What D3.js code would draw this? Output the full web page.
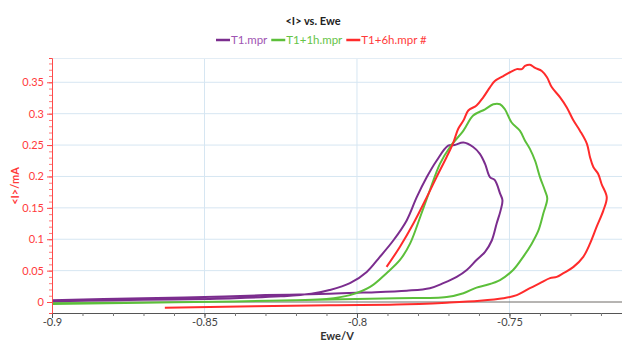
<!DOCTYPE html>
<html>
<head>
<meta charset="utf-8">
<script src="https://cdn.jsdelivr.net/npm/d3@7"></script>
<style>
  body { margin: 0; background: #fff; }
  svg { font-family: Lato, "Open Sans", sans-serif; }
</style>
</head>
<body>
<svg width="622" height="342"></svg>
<script>
// series: [Ewe (V), <I> (mA)]
var t1 = [
  [-0.9, 0.001], [-0.88, 0.003], [-0.86, 0.004], [-0.84, 0.006], [-0.825, 0.009],
  [-0.815, 0.013], [-0.809, 0.019], [-0.8023, 0.030], [-0.7968, 0.048], [-0.7925, 0.072],
  [-0.7881, 0.098], [-0.7837, 0.130], [-0.7804, 0.167], [-0.7771, 0.199], [-0.7739, 0.225],
  [-0.7701, 0.249], [-0.768, 0.250], [-0.7651, 0.254], [-0.7619, 0.247], [-0.7597, 0.236],
  [-0.758, 0.220], [-0.7564, 0.199], [-0.7548, 0.194], [-0.7531, 0.173], [-0.7523, 0.162],
  [-0.7529, 0.146], [-0.7542, 0.125], [-0.7558, 0.098], [-0.758, 0.080], [-0.7608, 0.067],
  [-0.764, 0.051], [-0.7673, 0.040], [-0.7717, 0.030], [-0.7761, 0.022], [-0.7837, 0.018],
  [-0.7979, 0.015], [-0.809, 0.013], [-0.83, 0.011], [-0.85, 0.008], [-0.87, 0.006], [-0.9, 0.003]
];
var t1h = [
  [-0.9, -0.003], [-0.87, -0.001], [-0.84, 0.001], [-0.82, 0.003], [-0.81, 0.005],
  [-0.8023, 0.011], [-0.7957, 0.024], [-0.7903, 0.046], [-0.7859, 0.067], [-0.7826, 0.093],
  [-0.7793, 0.135], [-0.7761, 0.178], [-0.7728, 0.220], [-0.7695, 0.247], [-0.7651, 0.273],
  [-0.7619, 0.297], [-0.758, 0.307], [-0.7553, 0.315], [-0.7531, 0.315], [-0.7515, 0.307],
  [-0.7493, 0.286], [-0.7466, 0.273], [-0.7449, 0.257], [-0.7433, 0.244], [-0.7416, 0.225],
  [-0.74, 0.199], [-0.7384, 0.178], [-0.7376, 0.165], [-0.7389, 0.141], [-0.7405, 0.114],
  [-0.7427, 0.093], [-0.7455, 0.072], [-0.7488, 0.051], [-0.7531, 0.035], [-0.7575, 0.027],
  [-0.7608, 0.023], [-0.7651, 0.014], [-0.7706, 0.008], [-0.787, 0.006], [-0.809, 0.004],
  [-0.84, 0.001], [-0.87, -0.001], [-0.9, -0.002]
];
var t6h = [
  [-0.7903, 0.056], [-0.7859, 0.088], [-0.7815, 0.125], [-0.7771, 0.167], [-0.7739, 0.199],
  [-0.7706, 0.231], [-0.7684, 0.254], [-0.7668, 0.276], [-0.7651, 0.289], [-0.7635, 0.305],
  [-0.7608, 0.313], [-0.7586, 0.326], [-0.7564, 0.342], [-0.7548, 0.352], [-0.752, 0.360],
  [-0.7498, 0.366], [-0.7476, 0.371], [-0.746, 0.371], [-0.7449, 0.376], [-0.7433, 0.378],
  [-0.7416, 0.373], [-0.7394, 0.368], [-0.7377, 0.358], [-0.7361, 0.342], [-0.7334, 0.326],
  [-0.7312, 0.310], [-0.729, 0.289], [-0.7269, 0.273], [-0.7246, 0.252], [-0.7236, 0.231],
  [-0.7225, 0.215], [-0.7209, 0.204], [-0.7198, 0.188], [-0.7181, 0.167], [-0.7192, 0.146],
  [-0.7214, 0.120], [-0.7236, 0.093], [-0.7258, 0.072], [-0.729, 0.056], [-0.7323, 0.046],
  [-0.7345, 0.040], [-0.7367, 0.038], [-0.74, 0.030], [-0.7433, 0.022], [-0.7476, 0.011],
  [-0.752, 0.006], [-0.7597, 0.002], [-0.7706, -0.001], [-0.787, -0.004], [-0.8089, -0.005],
  [-0.863, -0.009]
];

var seriesNames = ["T1.mpr", "T1+1h.mpr", "T1+6h.mpr #"];
var seriesColors = ["#7b2d8e", "#5cbf3a", "#ff2b2b"];
var legendTextColors = ["#a055b3", "#66c447", "#ff3b3b"];
var seriesData = [t1, t1h, t6h];

var xTicks = [-0.9, -0.85, -0.8, -0.75];
var xTickLabels = ["-0.9", "-0.85", "-0.8", "-0.75"];
var yTicks = [0, 0.05, 0.1, 0.15, 0.2, 0.25, 0.3, 0.35];
var yTickLabels = ["0", "0.05", "0.1", "0.15", "0.2", "0.25", "0.3", "0.35"];

var svg = d3.select("svg"),
    margin = {top: 58, right: 0, bottom: 29, left: 52},
    width = svg.attr("width") - margin.left - margin.right,
    height = svg.attr("height") - margin.top - margin.bottom;

var x = d3.scaleLinear().domain([-0.9, -0.7131]).range([0, width]),
    y = d3.scaleLinear().domain([-0.0175, 0.3887]).range([height, 0]);

var g = svg.append("g")
    .attr("transform", "translate(" + margin.left + "," + margin.top + ")");

// grid
g.append("g").selectAll("line").data(xTicks.slice(1)).enter().append("line")
    .attr("x1", function(d) { return x(d); }).attr("x2", function(d) { return x(d); })
    .attr("y1", 0).attr("y2", height)
    .attr("stroke", "#d6e6f2").attr("stroke-width", 1);
g.append("g").selectAll("line").data(yTicks.slice(1)).enter().append("line")
    .attr("x1", 0).attr("x2", width)
    .attr("y1", function(d) { return y(d); }).attr("y2", function(d) { return y(d); })
    .attr("stroke", "#d6e6f2").attr("stroke-width", 1);
g.append("line").attr("x1", 0).attr("x2", width).attr("y1", 0.5).attr("y2", 0.5)
    .attr("stroke", "#e3edf5");

// zero line
g.append("line")
    .attr("x1", 0).attr("x2", width)
    .attr("y1", y(0)).attr("y2", y(0))
    .attr("stroke", "#6e6a66").attr("stroke-width", 1);

// curves
var line = d3.line()
    .x(function(d) { return x(d[0]); })
    .y(function(d) { return y(d[1]); })
    .curve(d3.curveCatmullRom.alpha(0.5));

g.selectAll(".curve")
    .data(seriesData)
  .enter().append("path")
    .attr("class", "curve")
    .attr("fill", "none")
    .attr("stroke", function(d, i) { return seriesColors[i]; })
    .attr("stroke-width", 2)
    .attr("stroke-linejoin", "round")
    .attr("d", line);

// x axis
var xAxis = g.append("g")
    .attr("transform", "translate(0," + height + ")")
    .call(d3.axisBottom(x).tickValues(d3.range(-0.9, -0.7131, 0.01)).tickSize(3).tickFormat(""));
xAxis.call(function(a) {
  a.select(".domain").attr("stroke", "#555");
  a.selectAll(".tick line").attr("stroke", "#777");
});
var xAxisMajor = g.append("g")
    .attr("transform", "translate(0," + height + ")")
    .call(d3.axisBottom(x).tickValues(xTicks).tickSize(5)
      .tickFormat(function(d, i) { return xTickLabels[i]; }));
xAxisMajor.select(".domain").remove();
xAxisMajor.selectAll(".tick line").attr("stroke", "#555");
xAxisMajor.selectAll("text")
    .attr("fill", "#444").attr("font-size", 11).attr("y", 6).attr("dy", "0.6em")
    .style("font-family", "Lato, sans-serif");

// y axis
var yAxis = g.append("g")
    .call(d3.axisLeft(y).tickValues(d3.range(0, 0.385, 0.01)).tickSize(3).tickFormat(""));
yAxis.select(".domain").attr("stroke", "#ff4a4a");
yAxis.selectAll(".tick line").attr("stroke", "#ff7a7a");
var yAxisMajor = g.append("g")
    .call(d3.axisLeft(y).tickValues(yTicks).tickSize(5)
      .tickFormat(function(d, i) { return yTickLabels[i]; }));
yAxisMajor.select(".domain").remove();
yAxisMajor.selectAll(".tick line").attr("stroke", "#ff4a4a");
yAxisMajor.selectAll("text")
    .attr("fill", "#ff3b3b").attr("font-size", 11)
    .style("font-family", "Lato, sans-serif");

// axis titles
svg.append("text")
    .attr("x", 337).attr("y", 340)
    .attr("text-anchor", "middle")
    .attr("font-size", 11).attr("font-weight", "bold").attr("fill", "#333")
    .text("Ewe/V");
svg.append("text")
    .attr("transform", "translate(19,186) rotate(-90)")
    .attr("text-anchor", "middle")
    .attr("font-size", 11).attr("font-weight", "bold").attr("fill", "#ff3b3b")
    .text("<I>/mA");

// title
svg.append("text")
    .attr("x", 313).attr("y", 25)
    .attr("text-anchor", "middle")
    .attr("font-size", 11).attr("font-weight", "bold").attr("fill", "#222")
    .text("<I> vs. Ewe");

// legend
var legend = svg.append("g").attr("transform", "translate(216,44)");
var lx = 0;
seriesNames.forEach(function(name, i) {
  var item = legend.append("g").attr("transform", "translate(" + lx + ",0)");
  item.append("line").attr("x1", 0).attr("x2", 14).attr("y1", -4).attr("y2", -4)
      .attr("stroke", seriesColors[i]).attr("stroke-width", 2.5);
  var t = item.append("text").attr("x", 15).attr("y", 0)
      .attr("font-size", 11.5).attr("fill", legendTextColors[i])
      .text(name);
  lx += 15 + t.node().getComputedTextLength() + 4;
});
</script>
</body>
</html>
